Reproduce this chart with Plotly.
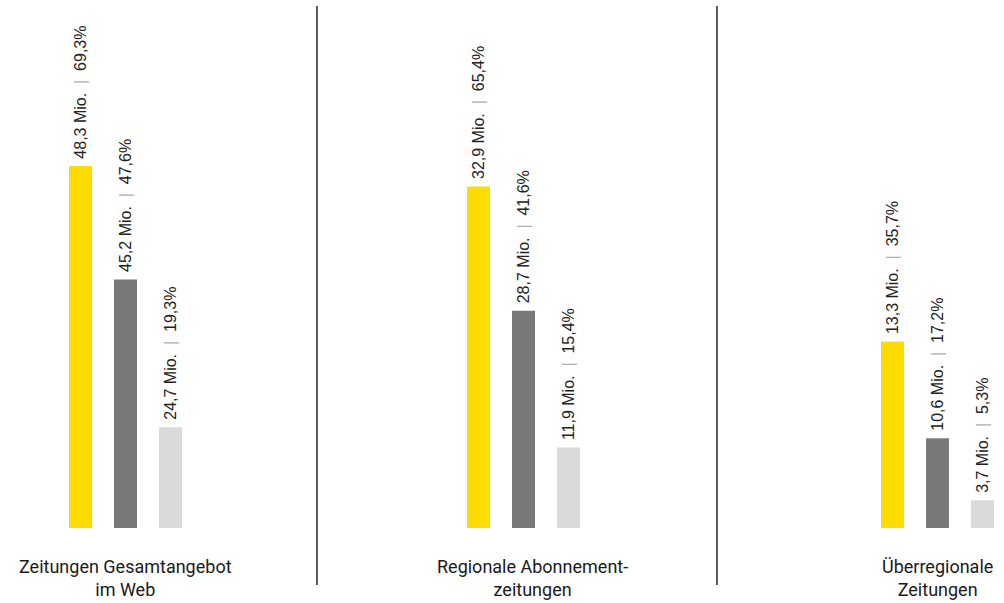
import plotly.graph_objects as go

# ---- data ----
categories = ["Zeitungen Gesamtangebot<br>im Web", "Regionale Abonnement-<br>zeitungen", "Überregionale<br>Zeitungen"]
gesamt_mio = [48.3, 32.9, 13.3]
gesamt_pct = [69.3, 65.4, 35.7]
mittel_mio = [45.2, 28.7, 10.6]
mittel_pct = [47.6, 41.6, 17.2]
klein_mio = [24.7, 11.9, 3.7]
klein_pct = [19.3, 15.4, 5.3]

# ---- layout helpers ----
group_x = [125.5, 523.5, 937.5]
label_x = [125, 532, 937.5]
sep_x = [317, 717]
W, H = 1004, 603
colors = ["#FFDC00", "#797979", "#DADADA"]
offsets = [-56.5, -11.5, 33.5]
bar_w = 23


def fmt(v):
    return f"{v:.1f}".replace(".", ",")


SEP = "&nbsp;&nbsp;<span style='color:#b0b0b0'>|</span>&nbsp;&nbsp;"


def labels(mio, pct):
    return [f"&nbsp;{fmt(m)} Mio.{SEP}{fmt(p)}%" for m, p in zip(mio, pct)]


fig = go.Figure()
series = [(gesamt_mio, gesamt_pct), (mittel_mio, mittel_pct), (klein_mio, klein_pct)]
for (mio, pct), c, off in zip(series, colors, offsets):
    fig.add_trace(go.Bar(
        x=group_x, y=pct, width=bar_w, offset=off,
        marker=dict(color=c, line=dict(width=0)),
        text=labels(mio, pct), textposition="outside", textangle=-90,
        constraintext="none", cliponaxis=False,
        textfont=dict(family="Liberation Sans", size=16, color="#222222"),
        hoverinfo="skip", showlegend=False,
    ))

for lx, cat in zip(label_x, categories):
    fig.add_annotation(x=lx, xref="x", y=0, yref="paper", yanchor="top", yshift=-26,
                       text=cat, showarrow=False, align="center",
                       font=dict(family="Roboto", size=18, color="#1a1a1a"))

for sx in sep_x:
    fig.add_shape(type="line", xref="paper", yref="paper",
                  x0=sx / W, x1=sx / W, y0=(528 - 585) / 528, y1=(528 - 6) / 528,
                  line=dict(color="#000000", width=1.3))

fig.update_layout(
    width=W, height=H, margin=dict(l=0, r=0, t=0, b=75),
    plot_bgcolor="white", paper_bgcolor="white", barmode="overlay",
    xaxis=dict(range=[0, W], visible=False, fixedrange=True),
    yaxis=dict(range=[0, 101.1], visible=False, fixedrange=True),
)

fig.write_html("out.html")
